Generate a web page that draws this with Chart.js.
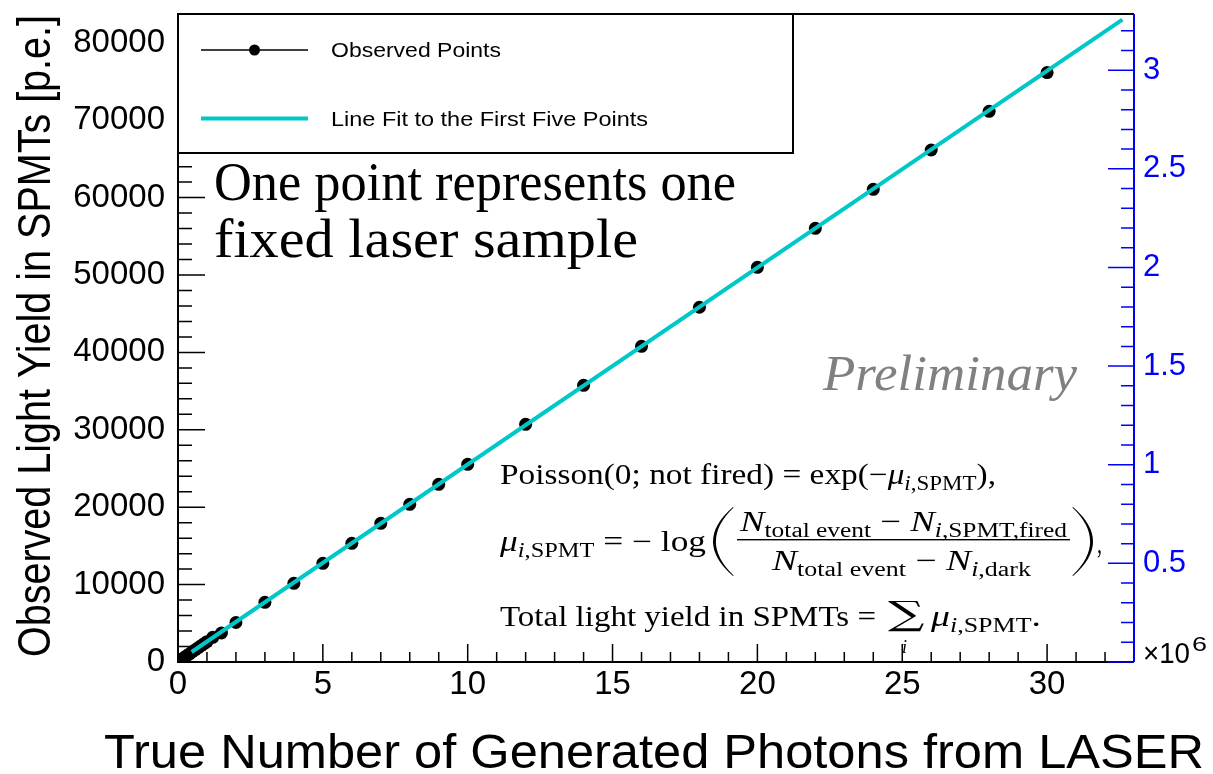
<!DOCTYPE html>
<html>
<head>
<meta charset="utf-8">
<script src="https://cdn.jsdelivr.net/npm/chart.js@4.4.1/dist/chart.umd.min.js"></script>
<style>
  html, body { margin: 0; padding: 0; background: #fff; }
  #wrap { width: 1213px; height: 774px; position: relative; }
</style>
</head>
<body>
<div id="wrap"><canvas id="lightYield"></canvas></div>
<script>
// true number of photons (x 10^6) vs observed light yield in SPMTs (p.e.)
const truePhotons = [0.05, 0.1, 0.15, 0.2, 0.25, 0.3, 0.4, 0.5, 0.6, 0.7, 0.8, 0.9, 1.0, 1.2, 1.5,
  2, 3, 4, 5, 6, 7, 8, 9, 10, 12, 14, 16, 18, 20, 22, 24, 26, 28, 30];
const observedYield = [140, 270, 400, 530, 660, 800, 1060, 1330, 1590, 1850, 2110, 2370, 2630, 3190, 3750,
  5100, 7710, 10170, 12750, 15330, 17920, 20370, 22960, 25540, 30710, 35750, 40790, 45830, 50990, 56030,
  61070, 66150, 71150, 76150];

// straight line from the fit to the first five points, end points only
const fitPhotons = [0.47, 32.6];
const fitYield = [1290, 82990];

// axis tick labels
const yTickValues = [0, 10000, 20000, 30000, 40000, 50000, 60000, 70000, 80000];
const y2TickValues = [0, 0.5, 1, 1.5, 2, 2.5, 3];

const xMax = 33;
const yMax = 83720;
const y2Max = 3.285;

const CYAN = 'rgb(0,200,200)';
const BLUE = '#0000ff';
const SANS = '"Liberation Sans", Arial, sans-serif';
const SERIF = '"Liberation Serif", "Times New Roman", serif';

// draw text squeezed/stretched to an exact width
function fitText(ctx, text, x, y, width, font, color) {
  ctx.save();
  ctx.font = font;
  ctx.fillStyle = color || '#000';
  ctx.textAlign = 'left';
  ctx.textBaseline = 'alphabetic';
  const w = ctx.measureText(text).width;
  ctx.translate(x, y);
  ctx.scale(width / w, 1);
  ctx.fillText(text, 0, 0);
  ctx.restore();
}

// small math typesetting: runs of [text, size, italic, dy]
function R(t, size, dy) { return { t, size: size || 29, it: false, dy: dy || 0 }; }
function I(t, size, dy) { return { t, size: size || 29, it: true, dy: dy || 0 }; }
function runFont(r) { return (r.it ? 'italic ' : '') + r.size + 'px ' + SERIF; }

function drawRuns(ctx, runs, x0, x1, y) {
  ctx.save();
  let total = 0;
  runs.forEach(r => { ctx.font = runFont(r); total += ctx.measureText(r.t).width; });
  ctx.translate(x0, y);
  ctx.scale((x1 - x0) / total, 1);
  ctx.fillStyle = '#000';
  ctx.textBaseline = 'alphabetic';
  let x = 0;
  runs.forEach(r => {
    ctx.font = runFont(r);
    ctx.fillText(r.t, x, r.dy);
    x += ctx.measureText(r.t).width;
  });
  ctx.restore();
}

// glyph scaled into a box (ink bounds)
function fitBox(ctx, text, font, x0, y0, x1, y1) {
  ctx.save();
  ctx.font = font;
  ctx.fillStyle = '#000';
  ctx.textBaseline = 'alphabetic';
  const m = ctx.measureText(text);
  const w = m.actualBoundingBoxLeft + m.actualBoundingBoxRight;
  const h = m.actualBoundingBoxAscent + m.actualBoundingBoxDescent;
  ctx.translate(x0, y0);
  ctx.scale((x1 - x0) / w, (y1 - y0) / h);
  ctx.fillText(text, m.actualBoundingBoxLeft, m.actualBoundingBoxAscent);
  ctx.restore();
}

// tall thin parenthesis as a crescent
function paren(ctx, x0, x1, top, bot, left) {
  const th = 2.6;
  const mid = (top + bot) / 2;
  ctx.save();
  ctx.fillStyle = '#000';
  ctx.beginPath();
  if (left) {
    ctx.moveTo(x1, top);
    ctx.quadraticCurveTo(2 * x0 - x1, mid, x1, bot);
    ctx.lineTo(x1 + 0.6, bot - 0.5);
    ctx.quadraticCurveTo(2 * (x0 + th) - x1, mid, x1 + 0.6, top + 0.5);
  } else {
    ctx.moveTo(x0, top);
    ctx.quadraticCurveTo(2 * x1 - x0, mid, x0, bot);
    ctx.lineTo(x0 - 0.6, bot - 0.5);
    ctx.quadraticCurveTo(2 * (x1 - th) - x0, mid, x0 - 0.6, top + 0.5);
  }
  ctx.closePath();
  ctx.fill();
  ctx.restore();
}

const frameTicks = {
  id: 'frameTicks',
  beforeDatasetsDraw(chart) {
    const { ctx, chartArea: a, scales } = chart;
    ctx.save();
    ctx.lineWidth = 1.5;
    ctx.strokeStyle = '#000';
    ctx.beginPath();
    for (let v = 0; v <= xMax; v += 1) {
      const px = scales.x.getPixelForValue(v);
      const len = v % 5 === 0 ? 18 : 10;
      ctx.moveTo(px, a.bottom);
      ctx.lineTo(px, a.bottom - len);
    }
    for (let v = 0; v <= yMax; v += 2000) {
      const py = scales.y.getPixelForValue(v);
      const len = v % 10000 === 0 ? 27 : 14;
      ctx.moveTo(a.left, py);
      ctx.lineTo(a.left + len, py);
    }
    ctx.stroke();

    ctx.lineWidth = 2;
    ctx.beginPath();
    ctx.moveTo(a.right, a.top);
    ctx.lineTo(a.left, a.top);
    ctx.lineTo(a.left, a.bottom);
    ctx.lineTo(a.right, a.bottom);
    ctx.stroke();

    // right-hand axis in blue
    ctx.strokeStyle = BLUE;
    ctx.lineWidth = 1.5;
    ctx.beginPath();
    for (let k = 0; k / 10 <= y2Max; k++) {
      const py = scales.y2.getPixelForValue(k / 10);
      const len = k % 5 === 0 ? 26 : 13;
      ctx.moveTo(a.right, py);
      ctx.lineTo(a.right - len, py);
    }
    ctx.stroke();
    ctx.lineWidth = 2;
    ctx.beginPath();
    ctx.moveTo(a.right, a.top);
    ctx.lineTo(a.right, a.bottom);
    ctx.stroke();
    ctx.restore();
  },
  afterDraw(chart) {
    const { ctx, chartArea: a } = chart;
    const ds = chart.data.datasets;

    // legend box
    ctx.save();
    ctx.fillStyle = '#fff';
    ctx.fillRect(a.left, a.top, 615, 139);
    ctx.strokeStyle = '#000';
    ctx.lineWidth = 2;
    ctx.strokeRect(a.left, a.top, 615, 139);

    ctx.strokeStyle = ds[1].borderColor;
    ctx.lineWidth = 1.5;
    ctx.beginPath();
    ctx.moveTo(201, 50); ctx.lineTo(308, 50);
    ctx.stroke();
    ctx.fillStyle = '#000';
    ctx.beginPath();
    ctx.arc(254.5, 50, 5.5, 0, Math.PI * 2);
    ctx.fill();
    fitText(ctx, ds[1].label, 331, 57, 170, '21px ' + SANS);

    ctx.strokeStyle = ds[0].borderColor;
    ctx.lineWidth = 4;
    ctx.beginPath();
    ctx.moveTo(201, 118.5); ctx.lineTo(308, 118.5);
    ctx.stroke();
    fitText(ctx, ds[0].label, 331, 126, 317, '21px ' + SANS);
    ctx.restore();

    // annotations
    fitText(ctx, 'One point represents one', 214, 200, 522, '54px ' + SERIF);
    fitText(ctx, 'fixed laser sample', 214, 257, 424, '54px ' + SERIF);
    fitText(ctx, 'Preliminary', 823, 390, 254, 'italic 50px ' + SERIF, '#808080');

    // formula block
    drawRuns(ctx, [R('Poisson(0; not fired) = exp(\u2212'), I('\u03bc'), I('i', 20, 6), R(',SPMT', 20, 6), R('),')],
      500, 996, 484);

    drawRuns(ctx, [I('\u03bc'), I('i', 20, 6), R(',SPMT', 20, 6), R(' = \u2212 log')], 500, 706, 551);
    paren(ctx, 713, 733, 507, 576, true);
    drawRuns(ctx, [I('N'), R('total event', 20, 6), R(' \u2212 '), I('N'), I('i', 20, 6), R(',SPMT,fired', 20, 6)],
      740, 1067, 531);
    ctx.save();
    ctx.fillStyle = '#000';
    ctx.fillRect(737, 539, 333, 1.4);
    ctx.restore();
    drawRuns(ctx, [I('N'), R('total event', 20, 6), R(' \u2212 '), I('N'), I('i', 20, 6), R(',dark', 20, 6)],
      772, 1031, 570);
    paren(ctx, 1073, 1093, 507, 576, false);
    drawRuns(ctx, [R(',')], 1097, 1102, 553);

    drawRuns(ctx, [R('Total light yield in SPMTs =')], 500, 876, 626);
    fitBox(ctx, '\u2211', '40px "DejaVu Serif", serif', 888, 601, 925, 632);
    drawRuns(ctx, [I('i', 19)], 902, 907, 653);
    drawRuns(ctx, [I('\u03bc'), I('i', 20, 6), R(',SPMT', 20, 6), R('.')], 931, 1041, 626);

    // axis titles
    ctx.save();
    ctx.translate(50, 657);
    ctx.rotate(-Math.PI / 2);
    fitText(ctx, 'Observed Light Yield in SPMTs [p.e.]', 0, 0, 642, '47px ' + SANS);
    ctx.restore();
    fitText(ctx, 'True Number of Generated Photons from LASER', 104, 768, 1100, '48px ' + SANS);

    // x-axis exponent
    fitText(ctx, '\u00d710', 1143, 663, 47, '29px ' + SANS);
    fitText(ctx, '6', 1192, 651, 15, '21px ' + SANS);
  }
};

const points = truePhotons.map((x, i) => ({ x, y: observedYield[i] }));
const fitLine = fitPhotons.map((x, i) => ({ x, y: fitYield[i] }));

new Chart(document.getElementById('lightYield'), {
  type: 'scatter',
  data: {
    datasets: [
      {
        label: 'Line Fit to the First Five Points',
        data: fitLine,
        showLine: true,
        borderColor: CYAN,
        borderWidth: 4,
        pointRadius: 0,
        order: 0
      },
      {
        label: 'Observed Points',
        data: points,
        showLine: true,
        borderColor: '#000',
        borderWidth: 1,
        pointRadius: 6.5,
        pointBackgroundColor: '#000',
        pointBorderWidth: 0,
        order: 1
      }
    ]
  },
  options: {
    responsive: true,
    maintainAspectRatio: false,
    animation: false,
    layout: { padding: { top: 14, left: 0, right: 0, bottom: 0 } },
    plugins: { legend: { display: false }, tooltip: { enabled: false } },
    scales: {
      x: {
        type: 'linear',
        min: 0,
        max: xMax,
        grid: { display: false, drawTicks: false },
        border: { display: false },
        ticks: { stepSize: 5, includeBounds: false, autoSkip: false, maxRotation: 0,
          color: '#000', padding: 3, font: { family: SANS, size: 33 } },
        afterFit(s) { s.height = 112; s.paddingLeft = 0; s.paddingRight = 0; }
      },
      y: {
        position: 'left',
        min: 0,
        max: yMax,
        grid: { display: false, drawTicks: false },
        border: { display: false },
        ticks: { autoSkip: false, color: '#000', padding: 13, font: { family: SANS, size: 33 },
          callback: v => String(v) },
        afterBuildTicks(s) { s.ticks = yTickValues.map(v => ({ value: v })); },
        afterFit(s) { s.width = 178; s.paddingTop = 0; s.paddingBottom = 0; }
      },
      y2: {
        position: 'right',
        display: true,
        min: 0,
        max: y2Max,
        grid: { display: false, drawTicks: false },
        border: { display: false },
        ticks: { autoSkip: false, color: BLUE, padding: 9, font: { family: SANS, size: 31 },
          callback: v => (v === 0 ? '' : String(v)) },
        afterBuildTicks(s) { s.ticks = y2TickValues.map(v => ({ value: v })); },
        afterFit(s) { s.width = 79; s.paddingTop = 0; s.paddingBottom = 0; }
      }
    }
  },
  plugins: [frameTicks]
});
</script>
</body>
</html>
